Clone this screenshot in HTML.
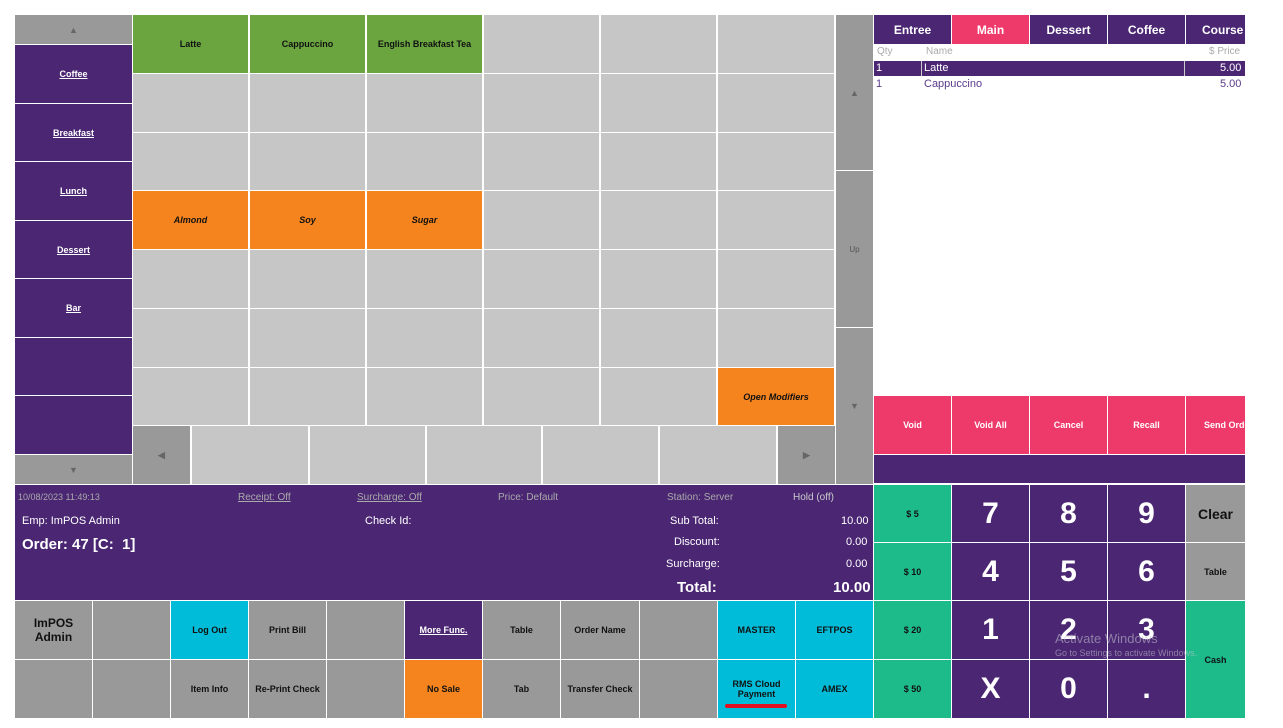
<!DOCTYPE html>
<html><head><meta charset="utf-8"><style>
body{margin:0;width:1283px;height:728px;background:#fff;position:relative;overflow:hidden;font-family:"Liberation Sans",sans-serif}
.b{position:absolute;box-sizing:border-box;display:flex;align-items:center;justify-content:center;text-align:center;font-size:9px;font-weight:bold;color:#111}
.p{background:#4a2673;color:#fff}.g{background:#c6c6c6}.d{background:#999}.gr{background:#6aa53f}.o{background:#f5841f}.k{background:#ee3a6a;color:#fff}.t{background:#1dbb8a}.c{background:#00bcd8}
.u{text-decoration:underline}.i{font-style:italic}
.a{color:#666;font-size:9px}
.n{font-size:30px;color:#fff}
.tx{position:absolute;font-size:11px;color:#fff;white-space:nowrap}
</style></head><body>
<div class="b d a" style="left:15px;top:15px;width:117px;height:29px">▲</div>
<div class="b p u" style="left:15px;top:45px;width:117px;height:58px">Coffee</div>
<div class="b p u" style="left:15px;top:104px;width:117px;height:57px">Breakfast</div>
<div class="b p u" style="left:15px;top:162px;width:117px;height:58px">Lunch</div>
<div class="b p u" style="left:15px;top:221px;width:117px;height:57px">Dessert</div>
<div class="b p u" style="left:15px;top:279px;width:117px;height:58px">Bar</div>
<div class="b p" style="left:15px;top:338px;width:117px;height:57px"></div>
<div class="b p" style="left:15px;top:396px;width:117px;height:58px"></div>
<div class="b d a" style="left:15px;top:455px;width:117px;height:29px">▼</div>
<div id="grid"></div>
<div class="b d a" style="left:836px;top:15px;width:37px;height:155px">▲</div>
<div class="b d a" style="left:836px;top:171px;width:37px;height:156px;font-weight:normal;color:#555;font-size:8px">Up</div>
<div class="b d a" style="left:836px;top:328px;width:37px;height:156px">▼</div>
<div class="b p" style="left:874px;top:15px;width:77px;height:29px;font-size:12px;color:#fff">Entree</div>
<div class="b k" style="left:952px;top:15px;width:77px;height:29px;font-size:12px">Main</div>
<div class="b p" style="left:1030px;top:15px;width:77px;height:29px;font-size:12px;color:#fff">Dessert</div>
<div class="b p" style="left:1108px;top:15px;width:77px;height:29px;font-size:12px;color:#fff">Coffee</div>
<div class="b p" style="left:1186px;top:15px;width:59px;height:29px;font-size:12px;color:#fff;justify-content:flex-start;padding-left:16px;overflow:hidden;white-space:nowrap">Course 5</div>
<div class="tx" style="left:877px;top:46px;color:#aaa;font-size:10px">Qty</div>
<div class="tx" style="left:926px;top:46px;color:#aaa;font-size:10px">Name</div>
<div class="tx" style="left:1209px;top:46px;color:#aaa;font-size:10px">$ Price</div>
<div style="position:absolute;left:874px;top:61px;width:371px;height:15px;background:#4a2673"></div>
<div style="position:absolute;left:921px;top:61px;width:1px;height:15px;background:#ccc"></div>
<div style="position:absolute;left:1184px;top:61px;width:1px;height:15px;background:#ccc"></div>
<div class="tx" style="left:876px;top:62px">1</div>
<div class="tx" style="left:924px;top:62px">Latte</div>
<div class="tx" style="left:1220px;top:62px">5.00</div>
<div class="tx" style="left:876px;top:78px;color:#5a3a8a">1</div>
<div class="tx" style="left:924px;top:78px;color:#5a3a8a">Cappuccino</div>
<div class="tx" style="left:1220px;top:78px;color:#5a3a8a">5.00</div>
<div class="b k" style="left:874px;top:396px;width:77px;height:58px">Void</div>
<div class="b k" style="left:952px;top:396px;width:77px;height:58px">Void All</div>
<div class="b k" style="left:1030px;top:396px;width:77px;height:58px">Cancel</div>
<div class="b k" style="left:1108px;top:396px;width:77px;height:58px">Recall</div>
<div class="b k" style="left:1186px;top:396px;width:59px;height:58px;justify-content:flex-start;padding-left:18px;white-space:nowrap;overflow:hidden">Send Order</div>
<div style="position:absolute;left:874px;top:455px;width:371px;height:28px;background:#4a2673"></div>
<div style="position:absolute;left:15px;top:485px;width:858px;height:115px;background:#4a2673"></div>
<div class="tx" style="left:18px;top:492px;font-size:9px;color:#aaa">10/08/2023 11:49:13</div>
<div class="tx u" style="left:238px;top:492px;font-size:10px;color:#aaa">Receipt: Off</div>
<div class="tx u" style="left:357px;top:492px;font-size:10px;color:#aaa">Surcharge: Off</div>
<div class="tx" style="left:498px;top:492px;font-size:10px;color:#aaa">Price: Default</div>
<div class="tx" style="left:667px;top:492px;font-size:10px;color:#aaa">Station: Server</div>
<div class="tx" style="left:793px;top:492px;font-size:10px;color:#ccc">Hold (off)</div>
<div class="tx" style="left:22px;top:515px">Emp: ImPOS Admin</div>
<div class="tx" style="left:365px;top:515px">Check Id:</div>
<div class="tx" style="left:22px;top:536px;font-size:15px;font-weight:bold">Order: 47 [C:&nbsp; 1]</div>
<div class="tx" style="left:670px;top:515px">Sub Total:</div>
<div class="tx" style="left:674px;top:536px">Discount:</div>
<div class="tx" style="left:666px;top:558px">Surcharge:</div>
<div class="tx" style="left:677px;top:579px;font-size:15px;font-weight:bold">Total:</div>
<div class="tx" style="left:841px;top:515px">10.00</div>
<div class="tx" style="left:846px;top:536px">0.00</div>
<div class="tx" style="left:846px;top:558px">0.00</div>
<div class="tx" style="left:833px;top:579px;font-size:15px;font-weight:bold">10.00</div>
<div id="bot"></div>
<div style="position:absolute;left:725px;top:704px;width:62px;height:4px;background:#e01020;border-radius:2px"></div>
<div class="b t" style="left:874px;top:485px;width:77px;height:57px">$ 5</div>
<div class="b t" style="left:874px;top:543px;width:77px;height:57px">$ 10</div>
<div class="b t" style="left:874px;top:601px;width:77px;height:58px">$ 20</div>
<div class="b t" style="left:874px;top:660px;width:77px;height:58px">$ 50</div>
<div class="b p n" style="left:952px;top:485px;width:77px;height:57px">7</div>
<div class="b p n" style="left:1030px;top:485px;width:77px;height:57px">8</div>
<div class="b p n" style="left:1108px;top:485px;width:77px;height:57px">9</div>
<div class="b p n" style="left:952px;top:543px;width:77px;height:57px">4</div>
<div class="b p n" style="left:1030px;top:543px;width:77px;height:57px">5</div>
<div class="b p n" style="left:1108px;top:543px;width:77px;height:57px">6</div>
<div class="b p n" style="left:952px;top:601px;width:77px;height:58px">1</div>
<div class="b p n" style="left:1030px;top:601px;width:77px;height:58px">2</div>
<div class="b p n" style="left:1108px;top:601px;width:77px;height:58px">3</div>
<div class="b p n" style="left:952px;top:660px;width:77px;height:58px">X</div>
<div class="b p n" style="left:1030px;top:660px;width:77px;height:58px">0</div>
<div class="b p n" style="left:1108px;top:660px;width:77px;height:58px">.</div>
<div class="b d" style="left:1186px;top:485px;width:59px;height:57px;font-size:14px">Clear</div>
<div class="b d" style="left:1186px;top:543px;width:59px;height:57px">Table</div>
<div class="b t" style="left:1186px;top:601px;width:59px;height:117px">Cash</div>
<div class="tx" style="left:1055px;top:631px;font-size:13px;color:rgba(200,200,210,.55)">Activate Windows</div>
<div class="tx" style="left:1055px;top:648px;font-size:9px;color:rgba(200,200,210,.55)">Go to Settings to activate Windows.</div>
<script>
var cx=[132,249,366,483,600,717,835],ry=[15,74,133,191,250,309,368,426];
var lab={"0,0":["gr","Latte"],"0,1":["gr","Cappuccino"],"0,2":["gr","English Breakfast Tea"],"3,0":["o i","Almond"],"3,1":["o i","Soy"],"3,2":["o i","Sugar"],"6,5":["o i","Open Modifiers"]};
var h="";
for(var r=0;r<7;r++)for(var c=0;c<6;c++){var l=lab[r+","+c]||["g",""];h+='<div class="b '+l[0]+'" style="left:'+(cx[c]+1)+'px;top:'+ry[r]+'px;width:'+(cx[c+1]-cx[c]-2)+'px;height:'+(ry[r+1]-ry[r]-1)+'px">'+l[1]+'</div>';}
var bx=[[132,190,"d a","◀"],[191,308,"g",""],[309,425,"g",""],[426,541,"g",""],[542,658,"g",""],[659,776,"g",""],[777,835,"d a","▶"]];
bx.forEach(function(b){h+='<div class="b '+b[2]+'" style="left:'+(b[0]+1)+'px;top:426px;width:'+(b[1]-b[0]-1)+'px;height:58px">'+b[3]+'</div>';});
document.getElementById("grid").outerHTML=h;
var bc=[15,93,171,249,327,405,483,561,640,718,796,874];
var r1=[["d","<span style='font-size:12px'>ImPOS<br>Admin</span>"],["d",""],["c","Log Out"],["d","Print Bill"],["d",""],["p u","More Func."],["d","Table"],["d","Order Name"],["d",""],["c","MASTER"],["c","EFTPOS"]];
var r2=[["d",""],["d",""],["d","Item Info"],["d","Re-Print Check"],["d",""],["o","No Sale"],["d","Tab"],["d","Transfer Check"],["d",""],["c","RMS Cloud<br>Payment"],["c","AMEX"]];
var g="";
[[r1,601],[r2,660]].forEach(function(rr){rr[0].forEach(function(b,i){g+='<div class="b '+b[0]+'" style="left:'+bc[i]+'px;top:'+rr[1]+'px;width:'+(bc[i+1]-bc[i]-1)+'px;height:58px">'+b[1]+'</div>';});});
document.getElementById("bot").outerHTML=g;
</script>
</body></html>
